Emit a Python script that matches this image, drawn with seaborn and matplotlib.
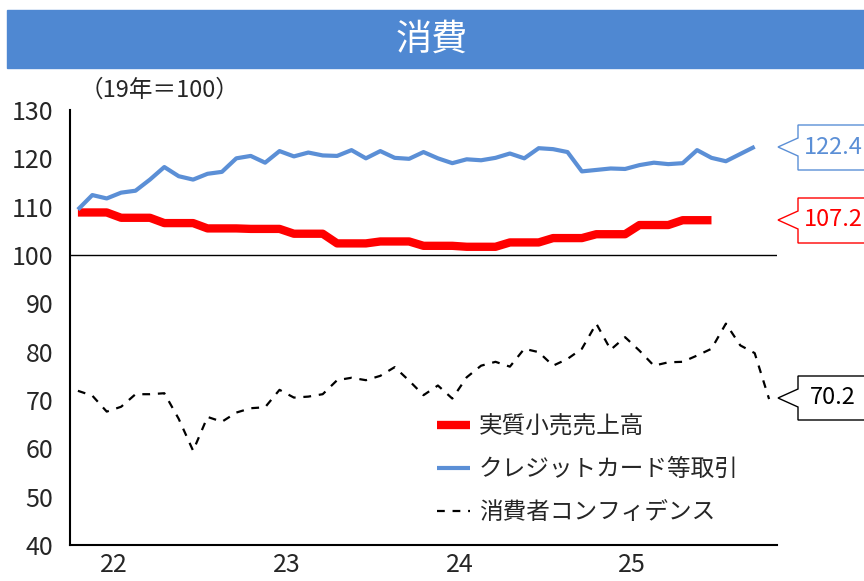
import numpy as np
import pandas as pd
import matplotlib
matplotlib.use("Agg")
import matplotlib.pyplot as plt
import seaborn as sns
from matplotlib.patches import Rectangle, Polygon

# monthly data from Apr 2022
retail = [108.8, 108.8, 108.8, 107.7, 107.7, 107.7, 106.6, 106.6, 106.6,
          105.5, 105.5, 105.5, 105.4, 105.4, 105.4, 104.4, 104.4, 104.4,
          102.4, 102.4, 102.4, 102.8, 102.8, 102.8, 101.9, 101.9, 101.9,
          101.7, 101.7, 101.7, 102.6, 102.6, 102.6, 103.5, 103.5, 103.5,
          104.3, 104.3, 104.3, 106.2, 106.2, 106.2, 107.2, 107.2, 107.2]
card = [109.4, 112.4, 111.7, 112.9, 113.3, 115.6, 118.2, 116.3, 115.6,
        116.8, 117.2, 120.0, 120.5, 119.1, 121.5, 120.4, 121.2, 120.6,
        120.5, 121.7, 120.0, 121.5, 120.1, 119.9, 121.3, 120.0, 119.0,
        119.8, 119.6, 120.1, 121.0, 120.0, 122.1, 121.9, 121.3, 117.3,
        117.6, 117.9, 117.8, 118.6, 119.1, 118.8, 119.0, 121.7, 120.1,
        119.4, 120.9, 122.4]
confidence = [71.9, 70.9, 67.6, 68.6, 71.2, 71.2, 71.4, 66.1, 59.5,
              66.5, 65.5, 67.4, 68.3, 68.5, 72.1, 70.5, 70.7, 71.2,
              74.1, 74.6, 74.1, 75.0, 76.8, 74.0, 71.0, 73.0, 70.3,
              74.7, 77.1, 77.9, 76.9, 80.6, 79.9, 77.1, 78.5, 80.6,
              85.8, 80.4, 83.0, 80.2, 77.1, 77.8, 77.9, 79.2, 80.6,
              85.8, 81.3, 79.7, 70.2]
year_labels = ["22", "23", "24", "25"]
series_names = ["実質小売売上高", "クレジットカード等取引", "消費者コンフィデンス"]
last_labels = ["107.2", "122.4", "70.2"]

sns.set_style("white")
plt.rcParams["font.family"] = ["Noto Sans CJK JP", "DejaVu Sans"]

df_r = pd.DataFrame({"m": np.arange(len(retail)), "v": retail})
df_c = pd.DataFrame({"m": np.arange(len(card)), "v": card})
df_k = pd.DataFrame({"m": np.arange(len(confidence)), "v": confidence})

fig = plt.figure(figsize=(8.64, 5.81), dpi=100)
ax = fig.add_axes([70 / 864, 1 - 545 / 581, 707 / 864, 435 / 581])

red, blue = "#ff0000", "#5b8fd6"
sns.lineplot(data=df_r, x="m", y="v", ax=ax, color=red, lw=6,
             solid_capstyle="butt", label=series_names[0])
sns.lineplot(data=df_c, x="m", y="v", ax=ax, color=blue, lw=3,
             solid_capstyle="butt", label=series_names[1])
sns.lineplot(data=df_k, x="m", y="v", ax=ax, color="black", lw=1.6,
             dashes=False, linestyle=(0, (3.5, 3.5)), label=series_names[2])
ax.axhline(100, color="black", lw=1)

ax.set_xlim(-0.55, 48.55)
ax.set_ylim(40, 130)
ax.set_yticks(range(40, 131, 10))
ax.set_xticks([8.5, 20.5, 32.5, 44.5])
ax.set_xticklabels([])
ax.set_xticks([2.5, 14.5, 26.5, 38.5], minor=True)
ax.set_xticklabels(year_labels, minor=True)
ax.tick_params(axis="x", which="major", direction="in", length=10, width=1, color="black")
ax.tick_params(axis="x", which="minor", length=0, labelsize=18, pad=5)
ax.tick_params(axis="y", direction="in", length=8, width=1, color="black", labelsize=18, pad=12)
ax.set_xlabel("")
ax.set_ylabel("")
for s in ["top", "right"]:
    ax.spines[s].set_visible(False)
for s in ["left", "bottom"]:
    ax.spines[s].set_color("black")
    ax.spines[s].set_linewidth(1.5)

leg = ax.legend(loc="upper left", bbox_to_anchor=(416 / 864, 1 - 394 / 581),
                bbox_transform=fig.transFigure, frameon=False, fontsize=17,
                handlelength=1.4, handletextpad=0.35, labelspacing=0.85)

# title bar
fig.patches.append(Rectangle((7 / 864, 1 - 68 / 581), 857 / 864, 58 / 581,
                             transform=fig.transFigure, color="#4f88d2", zorder=0))
fig.text(0.5, 1 - 40 / 581, "消費", color="white", fontsize=26, ha="center", va="center")
fig.text(80 / 864, 1 - 90 / 581, "（19年＝100）", fontsize=17, ha="left", va="center")

# callouts
def callout(yc, top, bot, text, color):
    x0, xb, xr = 778, 798, 870
    pts = [(xb, top), (xr, top), (xr, bot), (xb, bot), (xb, yc + 9), (x0, yc), (xb, yc - 9)]
    pts = [(x / 864, 1 - y / 581) for x, y in pts]
    fig.patches.append(Polygon(pts, closed=True, transform=fig.transFigure,
                               facecolor="white", edgecolor=color, lw=1))
    fig.text(833 / 864, 1 - yc / 581, text, color=color, fontsize=17, ha="center", va="center")

callout(147, 125, 170, last_labels[1], blue)
callout(220, 198, 243, last_labels[0], red)
callout(398, 376, 420, last_labels[2], "black")

fig.savefig("out.png", dpi=100)
